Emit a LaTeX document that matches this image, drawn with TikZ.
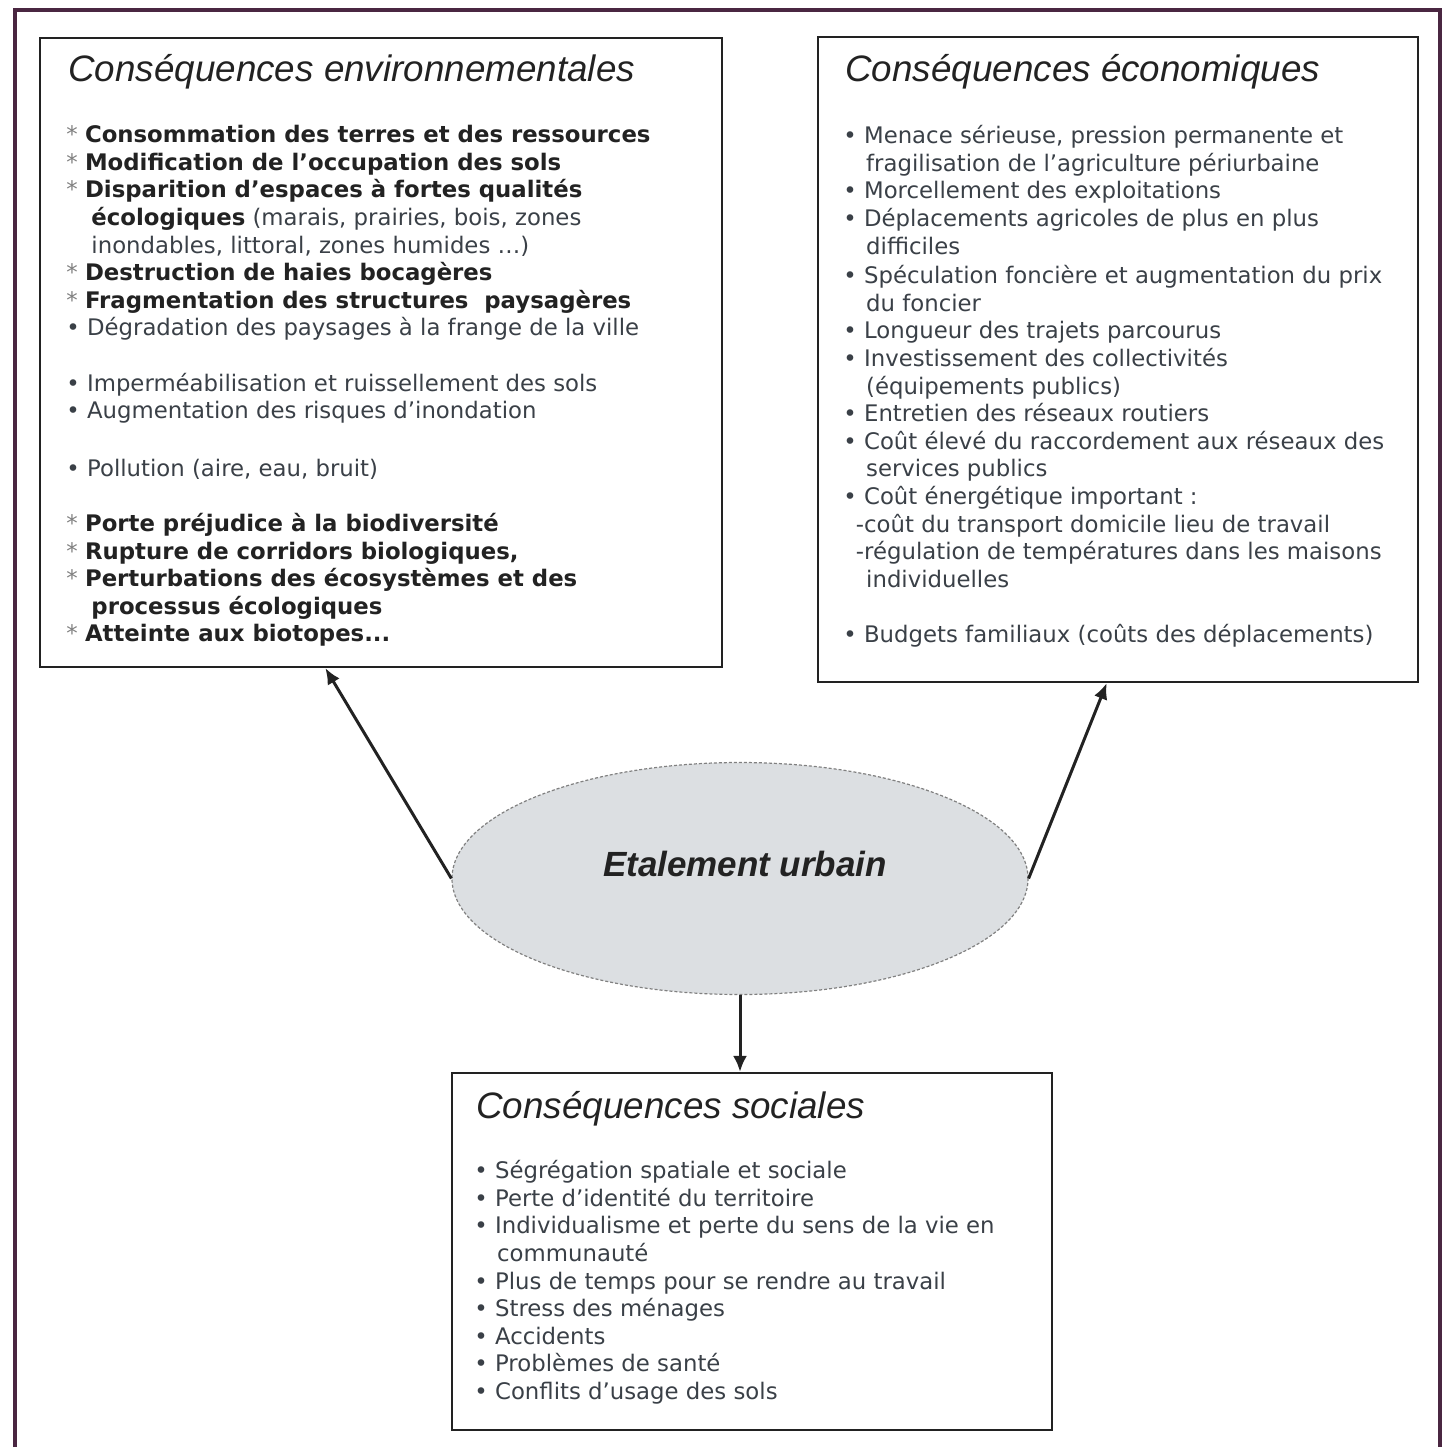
\documentclass[tikz,border=0pt]{standalone}
\usepackage{fontspec}
\newfontfamily\verd{DejaVu Sans}
\newfontfamily\arial{Liberation Sans}
\usetikzlibrary{arrows.meta,shapes.geometric}

\definecolor{cadre}{HTML}{4A2641}
\definecolor{encre}{HTML}{3A4047}
\definecolor{fonce}{HTML}{222222}
\definecolor{bulle}{HTML}{DCDFE2}

\newcommand\etoile{{\mdseries\color{gray}*}\ }
\newcommand\puce{•\ }
\newcommand\retrait{\hspace*{1em}}

\begin{document}
\begin{tikzpicture}[x=0.5pt, y=-0.5pt,
  >={Latex[length=8pt,width=7pt]},
  box/.style={rectangle, draw=fonce, line width=1.1pt, inner sep=0pt},
  titre/.style={anchor=base west, inner sep=0pt, text=fonce,
    font=\arial\itshape\fontsize{18.4}{22}\selectfont},
  liste/.style={anchor=north west, inner sep=0pt, align=left, text=encre,
    font=\verd\fontsize{11.4}{13.8}\selectfont},
  urb/.style={ellipse, draw=gray, dash pattern=on 1.5pt off 1pt, fill=bulle,
    line width=0.6pt, minimum width=288pt, minimum height=116pt},
  fleche/.style={->, line width=1.5pt, draw=fonce}
]
\useasboundingbox (0,0) rectangle (1450,1447);
\draw[cadre, line width=2.2pt] (15,1447) -- (15,10) -- (1440,10) -- (1440,1447);

% boxes
\node[box, minimum width=341pt, minimum height=314.5pt] (env) at (381,352.5) {};
\node[box, minimum width=300pt, minimum height=322.5pt] (eco) at (1118,359.5) {};
\node[box, minimum width=300pt, minimum height=178.5pt] (soc) at (752,1251.5) {};
\node[urb] (urb) at (740,878.5) {};
\node[font=\arial\bfseries\itshape\fontsize{17.5}{20}\selectfont, text=fonce] (urbtxt) at (745,864) {Etalement urbain};

% titles
\node[titre] (envtitre) at (68,81) {Conséquences environnementales};
\node[titre] (ecotitre) at (845,81) {Conséquences économiques};
\node[titre] (soctitre) at (476,1118) {Conséquences sociales};

% lists
\node[liste] (envliste) at (66,125) {%
\etoile\textbf{\color{fonce}Consommation des terres et des ressources}\\
\etoile\textbf{\color{fonce}Modification de l’occupation des sols}\\
\etoile\textbf{\color{fonce}Disparition d’espaces à fortes qualités}\\
\hspace*{1.1em}\textbf{\color{fonce}écologiques} (marais, prairies, bois, zones\\
\hspace*{1.1em}inondables, littoral, zones humides …)\\
\etoile\textbf{\color{fonce}Destruction de haies bocagères}\\
\etoile\textbf{\color{fonce}Fragmentation des structures\ \ paysagères}\\
\puce Dégradation des paysages à la frange de la ville\\[13.8pt]
\puce Imperméabilisation et ruissellement des sols\\
\puce Augmentation des risques d’inondation\\[15pt]
\puce Pollution (aire, eau, bruit)\\[13.8pt]
\etoile\textbf{\color{fonce}Porte préjudice à la biodiversité}\\
\etoile\textbf{\color{fonce}Rupture de corridors biologiques,}\\
\etoile\textbf{\color{fonce}Perturbations des écosystèmes et des}\\
\hspace*{1.1em}\textbf{\color{fonce}processus écologiques}\\
\etoile\textbf{\color{fonce}Atteinte aux biotopes...}};

\node[liste] (ecoliste) at (843,125) {%
\puce Menace sérieuse, pression permanente et\\
\retrait fragilisation de l’agriculture périurbaine\\
\puce Morcellement des exploitations\\
\puce Déplacements agricoles de plus en plus\\
\retrait difficiles\\[1pt]
\puce Spéculation foncière et augmentation du prix\\
\retrait du foncier\\
\puce Longueur des trajets parcourus\\
\puce Investissement des collectivités\\
\retrait (équipements publics)\\
\puce Entretien des réseaux routiers\\
\puce Coût élevé du raccordement aux réseaux des\\
\retrait services publics\\
\puce Coût énergétique important :\\
\hspace*{0.55em}-coût du transport domicile lieu de travail\\
\hspace*{0.55em}-régulation de températures dans les maisons\\
\retrait individuelles\\[13.8pt]
\puce Budgets familiaux (coûts des déplacements)};

\node[liste] (socliste) at (474,1160) {%
\puce Ségrégation spatiale et sociale\\
\puce Perte d’identité du territoire\\
\puce Individualisme et perte du sens de la vie en\\
\retrait communauté\\
\puce Plus de temps pour se rendre au travail\\
\puce Stress des ménages\\
\puce Accidents\\
\puce Problèmes de santé\\
\puce Conflits d’usage des sols};

% arrows
\draw[fleche] (urb.west) -- (env.260);
\draw[fleche] (urb.east) -- (eco.268);
\draw[fleche] (urb.south) -- (urb.south |- soc.north);
\end{tikzpicture}
\end{document}
